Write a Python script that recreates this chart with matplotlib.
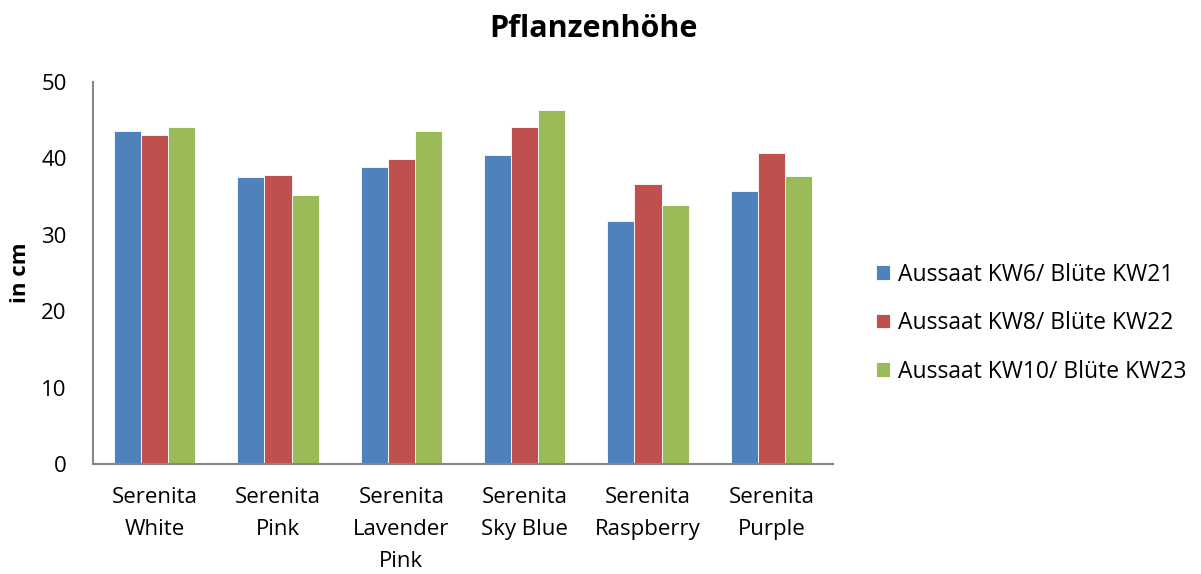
import matplotlib
matplotlib.use("Agg")
import matplotlib.pyplot as plt
import numpy as np

categories = ["Serenita\nWhite", "Serenita\nPink", "Serenita\nLavender\nPink",
              "Serenita\nSky Blue", "Serenita\nRaspberry", "Serenita\nPurple"]
series_names = ["Aussaat KW6/ Blüte KW21", "Aussaat KW8/ Blüte KW22", "Aussaat KW10/ Blüte KW23"]
kw6 = [43.5, 37.5, 38.9, 40.4, 31.8, 35.7]
kw8 = [43.0, 37.8, 39.9, 44.0, 36.6, 40.6]
kw10 = [44.1, 35.2, 43.5, 46.3, 33.9, 37.6]
colors = ["#4F81BD", "#C0504D", "#9BBB59"]

plt.rcParams['font.family'] = ['Open Sans', 'DejaVu Sans']

fig = plt.figure(figsize=(12.01, 5.74), dpi=100)
ax = fig.add_axes([0.0774, 0.191, 0.6162, 0.667])

x = np.arange(len(categories))
w = 0.22
for i, (vals, name) in enumerate(zip([kw6, kw8, kw10], series_names)):
    ax.bar(x + (i - 1) * w, vals, width=w, color=colors[i], label=name,
           edgecolor="white", linewidth=0.6)

ax.set_xlim(-0.5, len(categories) - 0.5)
ax.set_ylim(0, 50)
ax.set_yticks([0, 10, 20, 30, 40, 50])
ax.set_xticks(x)
ax.set_xticklabels(categories, fontsize=16, linespacing=1.7)
ax.tick_params(axis='both', length=0, labelsize=16)
ax.tick_params(axis='y', pad=19)
ax.tick_params(axis='x', pad=16)
for s in ["top", "right"]:
    ax.spines[s].set_visible(False)
for s in ["left", "bottom"]:
    ax.spines[s].set_color("#868686")
    ax.spines[s].set_linewidth(1.5)

ax.set_ylabel("in cm", fontsize=16, fontweight="bold", labelpad=7)
fig.text(0.494, 0.949, "Pflanzenhöhe", ha="center", va="center", fontsize=22, fontweight="bold")

ax.legend(loc="center left", bbox_to_anchor=(1.03, 0.369), frameon=False, fontsize=16.5,
          handlelength=0.6, handleheight=0.6, handletextpad=0.35, labelspacing=1.07)

fig.savefig("out.png", dpi=100)
